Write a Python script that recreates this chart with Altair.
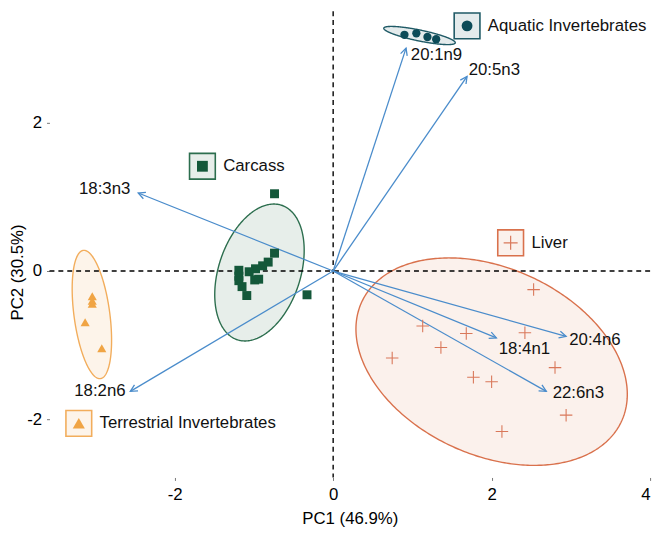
import numpy as np
import pandas as pd
import altair as alt

# ---------------- data ----------------
groups = ["Aquatic Invertebrates", "Carcass", "Liver", "Terrestrial Invertebrates"]
point_colors = ["#0c4b58", "#14583a", "#d9785a", "#f0a444"]
line_colors = ["#1f5a66", "#2c6e4e", "#d9714c", "#f2ad5c"]
fill_colors = ["#e4ebec", "#e7eeea", "#fbf1ec", "#fdf4ea"]

aq_x = [0.90, 1.05, 1.19, 1.30]
aq_y = [3.18, 3.20, 3.15, 3.12]

carc_x = [-0.74, -0.74, -0.82, -0.89, -0.98, -1.06, -1.19, -1.19, -1.19, -1.15, -1.09, -0.99, -0.94, -0.33]
carc_y = [1.04, 0.24, 0.12, 0.07, 0.03, -0.01, 0.01, -0.07, -0.13, -0.21, -0.33, -0.12, -0.11, -0.32]

liver_x = [2.53, 1.13, 1.68, 2.42, 1.36, 0.745, 2.80, 1.77, 2.00, 2.94, 2.13]
liver_y = [-0.25, -0.74, -0.84, -0.83, -1.03, -1.17, -1.30, -1.43, -1.49, -1.94, -2.16]

terr_x = [-3.04, -3.04, -3.04, -3.13, -2.92]
terr_y = [-0.34, -0.40, -0.44, -0.69, -1.04]

# ellipses: centre and two conjugate semi-axis vectors (data units)
ell_center = [(1.09, 3.17), (-0.93, -0.02), (2.0, -1.22), (-3.045, -0.585)]
ell_u = [(0.451, -0.099), (0.280, 0.905), (1.641, -0.799), (0.108, -0.863)]
ell_v = [(-0.014, -0.072), (0.490, -0.174), (-0.489, -1.145), (-0.224, -0.032)]

# loadings (arrows)
load_names = ["20:1n9", "20:5n3", "18:3n3", "18:2n6", "20:4n6", "18:4n1", "22:6n3"]
load_x = [0.92, 1.69, -2.46, -2.56, 2.94, 2.06, 2.69]
load_y = [3.00, 2.62, 1.05, -1.62, -0.88, -0.90, -1.62]
lab_x = [0.98, 1.71, -2.56, -2.62, 2.98, 2.09, 2.77]
lab_y = [2.91, 2.71, 1.10, -1.62, -0.93, -1.05, -1.64]

# group label boxes
box_x = [1.69, -1.65, 2.24, -3.21]
box_y = [3.30, 1.41, 0.38, -2.05]

x_ticks = [-2, 0, 2, 4]
y_ticks = [-2, 0, 2]

# ---------------- layout ----------------
X_DOMAIN = [-3.58, 4.0]
Y_DOMAIN = [-2.779, 3.497]
W, H = 608, 472
PX_X = W / (X_DOMAIN[1] - X_DOMAIN[0])
PX_Y = H / (Y_DOMAIN[1] - Y_DOMAIN[0])
FONT = "Liberation Sans"

xscale = alt.Scale(domain=X_DOMAIN, nice=False, zero=False)
yscale = alt.Scale(domain=Y_DOMAIN, nice=False, zero=False)

xaxis = alt.Axis(values=x_ticks, grid=False, domain=False, tickSize=3, tickColor="#777",
                 labelFontSize=17, labelFont=FONT, labelColor="black", labelPadding=6,
                 labelExpr="datum.value + ''", title="PC1 (46.9%)", titleFont=FONT,
                 titleFontSize=17, titleFontWeight="normal", titleColor="black", titlePadding=9)
yaxis = alt.Axis(values=y_ticks, grid=False, domain=False, tickSize=3, tickColor="#777",
                 labelFontSize=17, labelFont=FONT, labelColor="black", labelPadding=5,
                 labelExpr="datum.value + ''", title="PC2 (30.5%)", titleFont=FONT,
                 titleFontSize=17, titleFontWeight="normal", titleColor="black",
                 titleX=-32, titleY=264, titleAlign="center", titleBaseline="middle")

X = alt.X("x:Q", scale=xscale, axis=xaxis)
Y = alt.Y("y:Q", scale=yscale, axis=yaxis)

# ---------------- build tables ----------------
area_rows, outline_rows = [], []
t = np.linspace(0, 2 * np.pi, 361)
for g, c, u, v in zip(groups, ell_center, ell_u, ell_v):
    ex = c[0] + u[0] * np.cos(t) + v[0] * np.sin(t)
    ey = c[1] + u[1] * np.cos(t) + v[1] * np.sin(t)
    for i, (a, b) in enumerate(zip(ex, ey)):
        outline_rows.append({"g": g, "x": a, "y": b, "o": i})
    i0, i1 = int(np.argmin(ex[:-1])), int(np.argmax(ex[:-1]))
    n = len(ex) - 1
    idx_a = [(i0 + k) % n for k in range(((i1 - i0) % n) + 1)]
    idx_b = [(i1 + k) % n for k in range(((i0 - i1) % n) + 1)]
    ax_, ay_ = ex[idx_a], ey[idx_a]
    bx_, by_ = ex[idx_b], ey[idx_b]
    grid = np.linspace(ex[i0], ex[i1], 200)
    ya = np.interp(grid, ax_, ay_) if ax_[0] < ax_[-1] else np.interp(grid, ax_[::-1], ay_[::-1])
    yb = np.interp(grid, bx_, by_) if bx_[0] < bx_[-1] else np.interp(grid, bx_[::-1], by_[::-1])
    for gx, a, b in zip(grid, ya, yb):
        area_rows.append({"g": g, "x": gx, "y": max(a, b), "y2": min(a, b)})
area_df = pd.DataFrame(area_rows)
outline_df = pd.DataFrame(outline_rows)

color_fill = alt.Scale(domain=groups, range=fill_colors)
color_line = alt.Scale(domain=groups, range=line_colors)

areas = alt.Chart(area_df).mark_area(opacity=1).encode(
    x=X, y=Y, y2="y2:Q", detail="g:N",
    fill=alt.Fill("g:N", scale=color_fill, legend=None))
outlines = alt.Chart(outline_df).mark_line(strokeWidth=1.4).encode(
    x=X, y=Y, detail="g:N", order="o:Q",
    stroke=alt.Stroke("g:N", scale=color_line, legend=None))

hline = alt.Chart(pd.DataFrame({"v": [0]})).mark_rule(
    color="black", strokeDash=[5, 4], strokeWidth=1.4).encode(y=alt.Y("v:Q", scale=yscale, axis=yaxis))
vline = alt.Chart(pd.DataFrame({"v": [0]})).mark_rule(
    color="black", strokeDash=[5, 4], strokeWidth=1.4).encode(x=alt.X("v:Q", scale=xscale, axis=xaxis))

load_df = pd.DataFrame({"name": load_names, "x": load_x, "y": load_y,
                        "x0": [0.0] * len(load_x), "y0": [0.0] * len(load_y),
                        "lx": lab_x, "ly": lab_y})
load_df["angle"] = [float(np.degrees(np.arctan2(-yy * PX_Y, xx * PX_X)) % 360)
                    for xx, yy in zip(load_x, load_y)]
ARROW = "#4a8ccb"
arrows = alt.Chart(load_df).mark_rule(color=ARROW, strokeWidth=1.3).encode(
    x=alt.X("x0:Q", scale=xscale, axis=xaxis), y=alt.Y("y0:Q", scale=yscale, axis=yaxis),
    x2="x:Q", y2="y:Q")
heads = alt.Chart(load_df).mark_point(
    shape="M-2,-1L0,0L-2,1", filled=False, size=49, color=ARROW, strokeWidth=1.3, opacity=1).encode(
    x=X, y=Y, angle=alt.Angle("angle:Q", scale=None))
lab_right = alt.Chart(load_df).transform_filter("datum.lx > 0").mark_text(
    align="left", baseline="middle", font=FONT, fontSize=17, color="#111").encode(
    x=alt.X("lx:Q", scale=xscale, axis=xaxis), y=alt.Y("ly:Q", scale=yscale, axis=yaxis), text="name:N")
lab_left = alt.Chart(load_df).transform_filter("datum.lx < 0").mark_text(
    align="right", baseline="middle", font=FONT, fontSize=17, color="#111").encode(
    x=alt.X("lx:Q", scale=xscale, axis=xaxis), y=alt.Y("ly:Q", scale=yscale, axis=yaxis), text="name:N")

aq_df = pd.DataFrame({"x": aq_x, "y": aq_y})
carc_df = pd.DataFrame({"x": carc_x, "y": carc_y})
liver_df = pd.DataFrame({"x": liver_x, "y": liver_y})
terr_df = pd.DataFrame({"x": terr_x, "y": terr_y})

pts_aq = alt.Chart(aq_df).mark_point(shape="circle", filled=True, size=70, color=point_colors[0], opacity=1).encode(x=X, y=Y)
pts_carc = alt.Chart(carc_df).mark_point(shape="square", filled=True, size=82, color=point_colors[1], opacity=1).encode(x=X, y=Y)
pts_liver = alt.Chart(liver_df).mark_point(shape="M-1,0L1,0M0,-1L0,1", filled=False, size=160,
                                           color=point_colors[2], strokeWidth=1.1, opacity=1).encode(x=X, y=Y)
pts_terr = alt.Chart(terr_df).mark_point(shape="triangle-up", filled=True, size=85, color=point_colors[3], opacity=1).encode(x=X, y=Y)

box_df = pd.DataFrame({"g": groups, "x": box_x, "y": box_y})
boxes = alt.Chart(box_df).mark_point(shape="square", filled=True, size=680, strokeWidth=1.6, opacity=1).encode(
    x=X, y=Y,
    fill=alt.Fill("g:N", scale=color_fill, legend=None),
    stroke=alt.Stroke("g:N", scale=color_line, legend=None))
ic_aq = alt.Chart(box_df.iloc[[0]]).mark_point(shape="circle", filled=True, size=120, color=point_colors[0], opacity=1).encode(x=X, y=Y)
ic_carc = alt.Chart(box_df.iloc[[1]]).mark_point(shape="square", filled=True, size=120, color=point_colors[1], opacity=1).encode(x=X, y=Y)
ic_liver = alt.Chart(box_df.iloc[[2]]).mark_point(shape="M-1,0L1,0M0,-1L0,1", filled=False, size=200,
                                                  color=point_colors[2], strokeWidth=1.2, opacity=1).encode(x=X, y=Y)
ic_terr = alt.Chart(box_df.iloc[[3]]).mark_point(shape="triangle-up", filled=True, size=150, color=point_colors[3], opacity=1).encode(x=X, y=Y)
box_text = alt.Chart(box_df).mark_text(align="left", baseline="middle", dx=21, font=FONT, fontSize=17, color="#111").encode(
    x=X, y=Y, text="g:N")

chart = alt.layer(
    areas, outlines, hline, vline, arrows, heads, lab_right, lab_left,
    pts_aq, pts_carc, pts_liver, pts_terr,
    boxes, ic_aq, ic_carc, ic_liver, ic_terr, box_text
).resolve_scale(fill="independent", stroke="independent", color="independent").properties(
    width=W, height=H,
    autosize=alt.AutoSizeParams(type="none"),
    padding={"left": 42, "top": 0, "right": 8, "bottom": 57},
    background="white",
).configure_view(strokeWidth=0)

chart.save("out.html", embed_options={"renderer": "svg", "actions": False})
